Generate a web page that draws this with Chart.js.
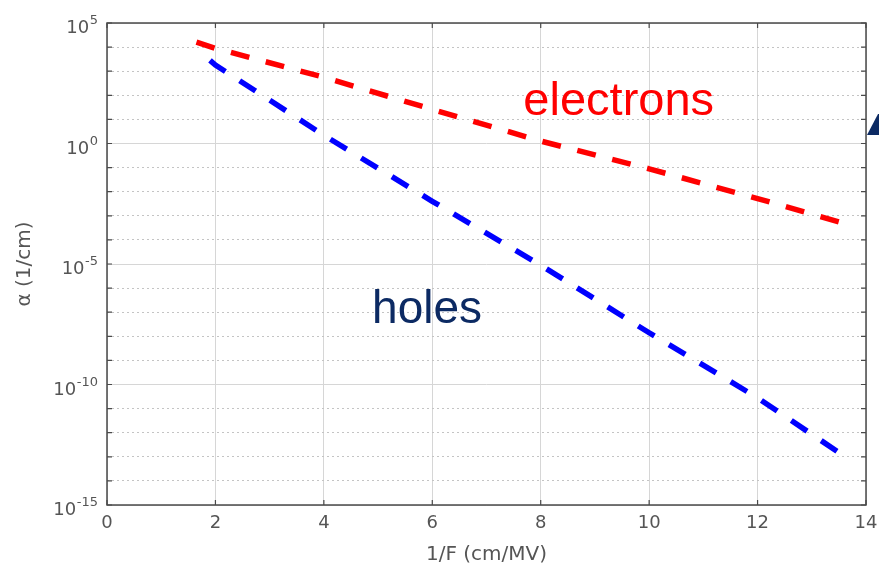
<!DOCTYPE html>
<html><head><meta charset="utf-8">
<script src="https://cdn.jsdelivr.net/npm/chart.js@4/dist/chart.umd.min.js"></script>
<style>html,body{margin:0;padding:0;background:#fff}#wrap{width:879px;height:568px}</style>
</head><body><div id="wrap"><canvas id="c" width="879" height="568"></canvas></div>
<script>
// ---- data ----
const electronsX = [1.65, 2, 4, 6, 8, 10, 12, 13.65];
const electronsAlpha = [1.6e4, 8.9e3, 5.6e2, 26, 1.26, 8.9e-2, 5.2e-3, 4.5e-4];
const holesX = [1.9, 2, 4, 6, 8, 10, 12, 13.65];
const holesAlpha = [2.8e3, 1.8e3, 2.2, 4.0e-3, 8.9e-6, 1.4e-8, 2.8e-11, 8.9e-14];
const xTicks = [0, 2, 4, 6, 8, 10, 12, 14];
const yLabelExps = [5, 0, -5, -10, -15];
const yDecadeExps = [5,4,3,2,1,0,-1,-2,-3,-4,-5,-6,-7,-8,-9,-10,-11,-12,-13,-14,-15];
const seriesLabels = ['electrons', 'holes'];

const FONT = 'DejaVu Sans';
const AXIS_COLOR = '#555555';
const NAVY = '#0c2a63';

const toXY = (xs, ys) => xs.map((x, i) => ({x, y: ys[i]}));

const framePlugin = {
  id: 'frame',
  beforeDatasetsDraw(chart) {
    const {ctx, chartArea: a, scales: {x, y}} = chart;
    ctx.save();
    ctx.strokeStyle = '#4a4a4a';
    ctx.lineWidth = 1.5;
    ctx.strokeRect(a.left, a.top, a.right - a.left, a.bottom - a.top);
    ctx.lineWidth = 1.2;
    ctx.beginPath();
    xTicks.forEach(v => {
      const px = x.getPixelForValue(v);
      ctx.moveTo(px, a.bottom); ctx.lineTo(px, a.bottom - 5);
      ctx.moveTo(px, a.top); ctx.lineTo(px, a.top + 5);
    });
    yDecadeExps.forEach(e => {
      const py = y.getPixelForValue(Math.pow(10, e));
      ctx.moveTo(a.left, py); ctx.lineTo(a.left + 5, py);
      ctx.moveTo(a.right, py); ctx.lineTo(a.right - 5, py);
    });
    ctx.stroke();
    ctx.restore();
  },
  afterDraw(chart) {
    const {ctx, chartArea: a, scales: {x, y}} = chart;
    ctx.save();
    // y tick labels with superscript exponents
    ctx.fillStyle = AXIS_COLOR;
    ctx.textBaseline = 'alphabetic';
    yLabelExps.forEach(e => {
      const py = y.getPixelForValue(Math.pow(10, e));
      const expTxt = String(e);
      ctx.font = '13px "' + FONT + '"';
      const ew = ctx.measureText(expTxt).width;
      const right = a.left - 9;
      ctx.textAlign = 'left';
      ctx.fillText(expTxt, right - ew, py + 1);
      ctx.font = '18px "' + FONT + '"';
      ctx.textAlign = 'right';
      ctx.fillText('10', right - ew - 0.5, py + 10);
    });
    // series annotations
    ctx.textAlign = 'left';
    ctx.font = '47px "Liberation Sans"';
    ctx.fillStyle = '#ff0000';
    ctx.fillText(seriesLabels[0], x.getPixelForValue(7.68), y.getPixelForValue(1.5e1));
    ctx.font = '46px "Liberation Sans"';
    ctx.fillStyle = NAVY;
    ctx.fillText(seriesLabels[1], x.getPixelForValue(4.89), y.getPixelForValue(3.5e-8));
    // decorative cut-off shape at the right edge
    ctx.beginPath();
    ctx.moveTo(867, 135); ctx.lineTo(878, 114); ctx.lineTo(879, 114); ctx.lineTo(879, 135);
    ctx.closePath();
    ctx.fill();
    ctx.restore();
  }
};

new Chart(document.getElementById('c'), {
  type: 'line',
  data: {
    datasets: [
      { label: seriesLabels[0], data: toXY(electronsX, electronsAlpha), borderColor: '#ff0000',
        borderWidth: 5.5, borderDash: [19, 17], pointRadius: 0, fill: false, tension: 0 },
      { label: seriesLabels[1], data: toXY(holesX, holesAlpha), borderColor: '#0000ff',
        borderWidth: 5.5, borderDash: [19, 17], pointRadius: 0, fill: false, tension: 0 }
    ]
  },
  options: {
    responsive: false,
    devicePixelRatio: 1,
    animation: false,
    layout: { padding: { top: 23, right: 13, left: 0, bottom: 0 } },
    plugins: { legend: { display: false }, tooltip: { enabled: false } },
    scales: {
      x: {
        type: 'linear', min: 0, max: 14,
        afterBuildTicks: s => { s.ticks = xTicks.map(v => ({value: v})); },
        ticks: { color: AXIS_COLOR, font: { family: FONT, size: 18 }, padding: 8 },
        grid: { color: '#d6d6d6', lineWidth: 1, drawTicks: false },
        border: { display: false },
        title: { display: true, text: '1/F (cm/MV)', color: AXIS_COLOR,
                 font: { family: FONT, size: 20 }, padding: { top: 0, bottom: 1 } },
        afterFit: s => { s.height = 63; s.paddingLeft = 0; s.paddingRight = 0; }
      },
      y: {
        type: 'logarithmic', min: 1e-15, max: 1e5, position: 'left',
        afterBuildTicks: s => { s.ticks = yLabelExps.map(e => ({value: Math.pow(10, e)})); },
        ticks: { display: false },
        grid: { color: '#d6d6d6', lineWidth: 1, drawTicks: false },
        border: { display: false },
        title: { display: true, text: 'α (1/cm)', color: AXIS_COLOR,
                 font: { family: FONT, size: 20 }, padding: { top: 13, bottom: 0 } },
        afterFit: s => { s.width = 107; s.paddingTop = 0; s.paddingBottom = 0; }
      },
      yMinor: {
        type: 'logarithmic', min: 1e-15, max: 1e5, position: 'left',
        afterBuildTicks: s => { s.ticks = yDecadeExps.filter(e => e % 5 !== 0).map(e => ({value: Math.pow(10, e)})); },
        ticks: { display: false },
        grid: { color: '#c4c4c4', lineWidth: 1, drawTicks: false },
        border: { display: false, dash: [2, 3] },
        afterFit: s => { s.width = 0; s.paddingTop = 0; s.paddingBottom = 0; }
      }
    }
  },
  plugins: [framePlugin]
});
</script>
</body></html>
